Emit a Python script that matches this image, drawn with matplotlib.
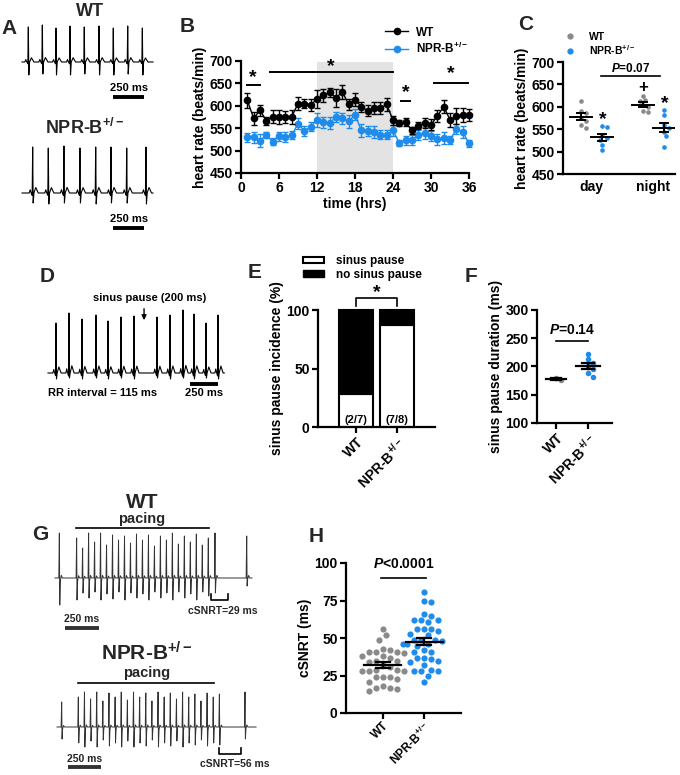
import numpy as np
import matplotlib
matplotlib.use('Agg')
import matplotlib.pyplot as plt
from matplotlib.lines import Line2D
from matplotlib.patches import Patch

plt.rcParams['font.family'] = ['Liberation Sans', 'DejaVu Sans']
plt.rcParams['font.weight'] = 'bold'
plt.rcParams['axes.labelweight'] = 'bold'
plt.rcParams['mathtext.fontset'] = 'custom'
plt.rcParams['mathtext.rm'] = 'Liberation Sans:bold'
plt.rcParams['mathtext.it'] = 'Liberation Sans:bold:italic'
plt.rcParams['mathtext.bf'] = 'Liberation Sans:bold'
plt.rcParams['mathtext.default'] = 'rm'

W, H = 680, 775
BLUE = '#1f8ceb'
GRAY = '#8a8a8a'
DARK = '#262626'
NPR = 'NPR-B$^{+/-}$'

# ---------------- data ----------------
# B: heart rate over 36 h
hours = list(range(1, 37))
wt_hr = [612, 572, 590, 567, 576, 575, 575, 575, 605, 605, 602, 615, 623, 630, 618, 631, 603, 614,
         598, 589, 595, 595, 603, 568, 562, 563, 545, 556, 562, 558, 577, 598, 569, 577, 580, 580]
wt_err = [16, 14, 12, 9, 15, 15, 14, 15, 15, 10, 14, 20, 14, 10, 20, 15, 12, 14,
          11, 12, 14, 14, 15, 10, 6, 9, 8, 8, 11, 12, 14, 15, 16, 18, 16, 13]
npr_hr = [530, 530, 522, 535, 520, 532, 530, 534, 560, 544, 553, 568, 563, 562, 575, 572, 565, 580,
          545, 544, 542, 535, 535, 545, 517, 523, 524, 535, 540, 533, 525, 528, 524, 548, 542, 516]
npr_err = [10, 12, 14, 7, 8, 10, 11, 9, 12, 11, 10, 15, 13, 14, 12, 13, 14, 12,
           14, 12, 13, 10, 10, 12, 6, 10, 11, 12, 13, 11, 12, 13, 9, 12, 14, 8]
sig_b_lines = [(1.0, 3.0, 647), (4.6, 24.0, 675), (25.3, 26.7, 611), (30.5, 35.9, 652)]
sig_b_stars = [(1.9, 664), (14.2, 688), (26.0, 630), (33.2, 672)]

# C: day / night averages
c_groups = ['day', 'night']
c_wt = [[613, 590, 587, 575, 568, 560, 553], [625, 616, 612, 603, 600, 590, 588]]
c_npr = [[557, 556, 536, 530, 527, 515, 503], [593, 581, 560, 553, 543, 534, 510]]

# E: sinus pause incidence
e_groups = ['WT', NPR]
e_pause = [2, 7]
e_total = [7, 8]

# F: sinus pause duration
f_wt = [176, 179]
f_npr = [222, 213, 207, 201, 195, 188, 181]

# H: cSNRT
h_wt = [56, 52, 49, 43, 42, 41, 41, 40, 41, 38, 38, 37, 35, 34, 35, 32, 31, 29, 28, 29, 28, 28,
        24, 24, 23, 24, 21, 18, 17, 17, 16, 15]
h_npr = [81, 75, 74, 66, 65, 62, 62, 61, 62, 56, 56, 56, 55, 53, 52, 49, 49, 49, 48, 46, 46, 46, 45,
         42, 41, 41, 37, 37, 36, 35, 34, 32, 29, 28, 28, 28, 25, 21]

# ECG traces (beat times in ms, amplitudes in px)
a_wt_beats = [51, 164, 274, 387, 502, 621, 736, 852, 970]
a_wt_up = [35, 37, 34, 36, 35, 36, 34, 36, 34]
a_wt_down = [13, 12, 13, 13, 12, 13, 13, 12, 13]
a_npr_beats = [86, 212, 338, 467, 594, 717, 844, 999]
a_npr_up = [46, 45, 47, 45, 46, 46, 45, 46]
a_npr_down = [10, 11, 10, 10, 11, 10, 10, 11]
d_beats = [71, 186, 301, 425, 531, 646, 761, 965, 1080, 1195, 1292, 1398, 1505]
d_up = [50, 60, 54, 58, 52, 56, 57, 56, 58, 63, 59, 50, 58]
d_down = [6, 5, 6, 5, 6, 5, 6, 5, 6, 5, 6, 5, 6]
g_wt_beats = [32, 159, 203, 247, 291, 335, 379, 423, 467, 511, 555, 599, 643, 687, 731, 775,
              819, 863, 907, 951, 995, 1039, 1083, 1127, 1176, 1409]
g_wt_up = [45, 40, 30, 45, 36, 45, 33, 43, 38, 42, 35, 44, 38, 43, 32, 42, 38, 45, 34, 42, 36,
           44, 33, 40, 45, 42]
g_wt_down = [27, 22, 15, 20, 14, 22, 16, 21, 14, 22, 15, 20, 16, 22, 14, 20, 15, 22, 14, 20,
             16, 22, 14, 18, 15, 8]
g_npr_beats = [35, 160, 206, 252, 298, 344, 390, 436, 482, 528, 574, 620, 666, 712, 758, 804,
               850, 896, 942, 988, 1034, 1080, 1126, 1172, 1218, 1410]
g_npr_up = [25, 30, 35, 28, 35, 26, 34, 30, 35, 27, 35, 30, 34, 26, 35, 30, 34, 28, 35, 30, 33,
            26, 34, 30, 33, 35]
g_npr_down = [12, 16, 20, 14, 20, 13, 19, 16, 20, 14, 20, 16, 19, 13, 20, 16, 19, 14, 20, 16,
              18, 13, 19, 16, 18, 12]

fig = plt.figure(figsize=(6.8, 7.75), dpi=100)


def px_axes(x0, y0, x1, y1):
    return fig.add_axes([x0 / W, 1 - y1 / H, (x1 - x0) / W, (y1 - y0) / H])


def style(ax):
    for s in ['top', 'right']:
        ax.spines[s].set_visible(False)
    for s in ['left', 'bottom']:
        ax.spines[s].set_linewidth(1.6)
    ax.tick_params(width=1.6, length=4, labelsize=10, pad=2)


def trace_axes(x0, y0, x1, y1, base, ms_px, t0):
    ax = px_axes(x0, y0, x1, y1)
    ax.set_xlim((x0 - t0) * ms_px, (x1 - t0) * ms_px)
    ax.set_ylim(base - y1, base - y0)
    ax.axis('off')
    return ax


def sinus_trace(beats, up, down, t_end):
    xs, ys = [0], [0]
    for t, a, d in zip(beats, up, down):
        xs += [t - 28, t - 20, t - 12, t - 4, t, t + 4, t + 10, t + 25, t + 45]
        ys += [0, 0.07 * a, 0, -0.05 * a, a, -d, 0, 0.12 * a, 0]
    xs.append(t_end)
    ys.append(0)
    return xs, ys


def paced_trace(beats, up, down, t_end):
    xs, ys = [0], [0]
    for t, a, d in zip(beats, up, down):
        xs += [t - 4, t, t + 3, t + 7, t + 14, t + 22]
        ys += [0, a, -d, -0.15 * d, 0.06 * a, 0]
    xs.append(t_end)
    ys.append(0)
    return xs, ys


def swarm(vals, center, px_x, px_y, d, step=0.5, gap=0.9):
    vals = np.asarray(vals, float)
    placed = []
    xs = np.zeros(len(vals))
    for i in np.argsort(vals)[::-1]:
        y = vals[i] * px_y
        for k in [0, 1, -1, 2, -2, 3, -3, 4, -4, 5, -5, 6, -6]:
            x = k * d * step
            if all((x - px) ** 2 + (y - py) ** 2 >= (d * gap) ** 2 for px, py in placed):
                break
        placed.append((x, y))
        xs[i] = center + x / px_x
    return xs


def mean_sem(ax, x, vals, half_mean, half_cap, lw=1.6):
    m = np.mean(vals)
    s = np.std(vals, ddof=1) / np.sqrt(len(vals))
    ax.plot([x - half_mean, x + half_mean], [m, m], color='k', lw=lw, zorder=5)
    ax.plot([x, x], [m - s, m + s], color='k', lw=lw, zorder=5)
    for v in (m - s, m + s):
        ax.plot([x - half_cap, x + half_cap], [v, v], color='k', lw=lw, zorder=5)


def label(x, y, s):
    fig.text(x / W, 1 - y / H, s, fontsize=15, ha='center', va='center', color=DARK)


for x, y, s in [(9, 28, 'A'), (187, 27, 'B'), (526, 24, 'C'), (47, 277, 'D'),
                (255, 272, 'E'), (471, 276, 'F'), (40, 535, 'G'), (316, 537, 'H')]:
    label(x, y, s)

# ---------------- A ----------------
ms_a = 8.06
ax = trace_axes(0, 0, 170, 110, 62, ms_a, 22)
ax.plot(*sinus_trace(a_wt_beats, a_wt_up, a_wt_down, 1056), color='k', lw=0.8)
ax.text(548, 50, 'WT', fontsize=13, ha='center', va='center', color=DARK)
ax.plot([734, 984], [-35, -35], color='k', lw=2.8, solid_capstyle='butt')
ax.text(859, -26, '250 ms', fontsize=8, ha='center', va='center')

ax = trace_axes(0, 112, 170, 240, 193, ms_a, 22)
ax.plot(*sinus_trace(a_npr_beats, a_npr_up, a_npr_down, 1056), color='k', lw=0.8)
ax.text(508, 65, NPR, fontsize=13, ha='center', va='center', color=DARK)
ax.plot([734, 984], [-35, -35], color='k', lw=2.8, solid_capstyle='butt')
ax.text(859, -26, '250 ms', fontsize=8, ha='center', va='center')

# ---------------- B ----------------
axB = px_axes(241, 61, 469, 173)
style(axB)
axB.axvspan(12, 24, ymax=0.99, color='#e3e3e3', lw=0, zorder=0)
axB.errorbar(hours, wt_hr, yerr=wt_err, color='k', marker='o', ms=4.5, lw=1,
             capsize=2.5, elinewidth=1, clip_on=False, zorder=4)
axB.errorbar(hours, npr_hr, yerr=npr_err, color=BLUE, marker='o', ms=4.5, lw=1,
             capsize=2.5, elinewidth=1, clip_on=False, zorder=3)
for x0, x1, y in sig_b_lines:
    axB.plot([x0, x1], [y, y], color='k', lw=1.4, clip_on=False)
for x, y in sig_b_stars:
    axB.text(x, y, '*', fontsize=14, ha='center', va='center', clip_on=False)
axB.set_xlim(0, 36)
axB.set_ylim(450, 700)
axB.set_xticks(range(0, 37, 6))
axB.set_yticks(range(450, 701, 50))
axB.set_xlabel('time (hrs)', fontsize=10, labelpad=1)
axB.set_ylabel('heart rate (beats/min)', fontsize=10, labelpad=2)
axB.legend([Line2D([], [], color='k', marker='o', ms=4.5, lw=1),
            Line2D([], [], color=BLUE, marker='o', ms=4.5, lw=1)],
           ['WT', NPR], loc='lower left', bbox_to_anchor=(0.6, 0.98), frameon=False,
           fontsize=8.5, handlelength=2.0, handletextpad=0.6, labelspacing=0.2,
           borderpad=0.1)

# ---------------- C ----------------
axC = px_axes(563, 62, 675, 174)
style(axC)
c_centers = [1.0, 3.2]
pxx, pxy = 28.0, 112 / 250
for i, c in enumerate(c_centers):
    xw = c - 0.35
    xn = c + 0.4
    axC.scatter(swarm(c_wt[i], xw, pxx, pxy, 4.6, 0.55, 0.98), c_wt[i], s=11, color=GRAY,
                lw=0, zorder=3)
    axC.scatter(swarm(c_npr[i], xn, pxx, pxy, 4.6, 0.55, 0.98), c_npr[i], s=11, color=BLUE,
                lw=0, zorder=3)
    mean_sem(axC, xw, c_wt[i], 0.4, 0.15, lw=1.4)
    mean_sem(axC, xn, c_npr[i], 0.4, 0.15, lw=1.4)
axC.text(1.43, 572, '*', fontsize=14, ha='center', va='center')
axC.text(3.62, 607, '*', fontsize=14, ha='center', va='center')
axC.text(2.85, 643, '+', fontsize=12, ha='center', va='center')
axC.plot([1.35, 3.46], [669, 669], color='k', lw=1.2)
axC.text(2.4, 686, '$\\mathit{P}$=0.07', fontsize=8.5, ha='center', va='center')
axC.set_xlim(0, 4)
axC.set_ylim(450, 700)
axC.set_yticks(range(450, 701, 50))
axC.set_xticks(c_centers)
axC.set_xticklabels(c_groups, fontsize=10)
axC.tick_params(axis='x', length=0, pad=4)
axC.set_ylabel('heart rate (beats/min)', fontsize=10, labelpad=2)
axC.legend([Line2D([], [], color=GRAY, marker='o', ms=3.5, lw=0),
            Line2D([], [], color=BLUE, marker='o', ms=3.5, lw=0)],
           ['WT', NPR], loc='lower left', bbox_to_anchor=(-0.05, 0.99), frameon=False,
           fontsize=7.5, handlelength=1.2, handletextpad=1.2, labelspacing=0.1,
           borderpad=0.1)

# ---------------- D ----------------
ms_d = 8.85
ax = trace_axes(40, 285, 230, 400, 373, ms_d, 48)
ax.plot(*sinus_trace(d_beats, d_up, d_down, 1560), color='k', lw=0.8)
ax.text(903, 75, 'sinus pause (200 ms)', fontsize=8, ha='center', va='center')
ax.annotate('', xy=(850, 50), xytext=(850, 67),
            arrowprops=dict(arrowstyle='-|>', color='k', lw=1, mutation_scale=7))
ax.text(0, -20, 'RR interval = 115 ms', fontsize=8, ha='left', va='center')
ax.plot([1257, 1507], [-11, -11], color='k', lw=2.8, solid_capstyle='butt')
ax.text(1382, -20, '250 ms', fontsize=8, ha='center', va='center')

# ---------------- E ----------------
axE = px_axes(318, 310, 435, 427)
style(axE)
xe = [0, 1]
frac = [100.0 * p / t for p, t in zip(e_pause, e_total)]
axE.bar(xe, frac, width=0.85, color='white', edgecolor='k', lw=1.5, clip_on=False)
axE.bar(xe, [100 - f for f in frac], bottom=frac, width=0.85, color='k', edgecolor='k',
        lw=1.5, clip_on=False)
for x, p, t in zip(xe, e_pause, e_total):
    axE.text(x, 6, '(%d/%d)' % (p, t), fontsize=8, ha='center', va='center')
axE.plot([0, 0, 1, 1], [103, 110, 110, 103], color='k', lw=1.2, clip_on=False)
axE.text(0.5, 115, '*', fontsize=14, ha='center', va='center')
axE.set_xlim(-0.93, 1.93)
axE.set_ylim(0, 100)
axE.set_yticks([0, 50, 100])
axE.set_xticks(xe)
axE.set_xticklabels(e_groups, rotation=45, ha='right', rotation_mode='anchor', fontsize=10)
axE.set_ylabel('sinus pause incidence (%)', fontsize=10, labelpad=2)
fig.legend([Patch(facecolor='white', edgecolor='k', lw=1.5), Patch(facecolor='k', edgecolor='k')],
           ['sinus pause', 'no sinus pause'], loc='upper left',
           bbox_to_anchor=(296 / W, 1 - 248 / H), frameon=False, fontsize=8.5,
           handlelength=1.8, handleheight=0.5, handletextpad=1.0, labelspacing=0.15,
           borderpad=0.1)

# ---------------- F ----------------
axF = px_axes(537, 310, 612, 423)
style(axF)
pxx_f, pxy_f = 32.0, 113 / 200
axF.scatter(swarm(f_wt, 0, pxx_f, pxy_f, 5.5), f_wt, s=16, color=GRAY, lw=0, zorder=3)
axF.scatter(swarm(f_npr, 1, pxx_f, pxy_f, 5.5), f_npr, s=16, color=BLUE, lw=0, zorder=3)
mean_sem(axF, 0, f_wt, 0.32, 0.15)
mean_sem(axF, 1, f_npr, 0.38, 0.18)
axF.plot([0, 1], [245, 245], color='k', lw=1.2)
axF.text(0.5, 264, '$\\mathit{P}$=0.14', fontsize=10, ha='center', va='center')
axF.set_xlim(-0.59, 1.75)
axF.set_ylim(100, 300)
axF.set_yticks(range(100, 301, 50))
axF.set_xticks([0, 1])
axF.set_xticklabels(e_groups, rotation=45, ha='right', rotation_mode='anchor', fontsize=10)
axF.set_ylabel('sinus pause duration (ms)', fontsize=10, labelpad=2)

# ---------------- G ----------------
ms_g1 = 7.35
ax = trace_axes(30, 490, 270, 640, 578, ms_g1, 55)
ax.plot(*paced_trace(g_wt_beats, g_wt_up, g_wt_down, 1448), color='#333333', lw=0.7)
ax.text(639, 76, 'WT', fontsize=15, ha='center', va='center', color=DARK)
ax.text(639, 59, 'pacing', fontsize=10.5, ha='center', va='center', color=DARK)
ax.plot([154, 1132], [50, 50], color='k', lw=1.2)
ax.plot([1147, 1147, 1272, 1272], [-16, -22, -22, -16], color='k', lw=1.2)
ax.text(1235, -33, 'cSNRT=29 ms', fontsize=7.5, ha='center', va='center', color=DARK)
ax.plot([73.5, 323.5], [-50, -50], color='#333333', lw=2.8, solid_capstyle='butt')
ax.text(198, -41, '250 ms', fontsize=7.5, ha='center', va='center', color=DARK)

ms_g2 = 7.5
ax = trace_axes(30, 640, 275, 775, 727, ms_g2, 57)
ax.plot(*paced_trace(g_npr_beats, g_npr_up, g_npr_down, 1493), color='#333333', lw=0.7)
ax.text(675, 74, NPR, fontsize=15, ha='center', va='center', color=DARK)
ax.text(675, 54, 'pacing', fontsize=10.5, ha='center', va='center', color=DARK)
ax.plot([157.5, 1177.5], [44, 44], color='k', lw=1.2)
ax.plot([1215, 1215, 1380, 1380], [-21, -27, -27, -21], color='k', lw=1.2)
ax.text(1335, -37, 'cSNRT=56 ms', fontsize=7.5, ha='center', va='center', color=DARK)
ax.plot([82.5, 332.5], [-40, -40], color='#333333', lw=2.8, solid_capstyle='butt')
ax.text(210, -32, '250 ms', fontsize=7.5, ha='center', va='center', color=DARK)

# ---------------- H ----------------
axH = px_axes(346, 563, 461, 713)
style(axH)
pxx_h, pxy_h = 41.0, 150 / 100
axH.scatter(swarm(h_wt, 0, pxx_h, pxy_h, 7.0), h_wt, s=20, color=GRAY, lw=0, zorder=3)
axH.scatter(swarm(h_npr, 1, pxx_h, pxy_h, 7.0), h_npr, s=20, color=BLUE, lw=0, zorder=3)
mean_sem(axH, 0, h_wt, 0.45, 0.16)
mean_sem(axH, 1, h_npr, 0.45, 0.16)
axH.plot([-0.05, 1.05], [90, 90], color='k', lw=1.2)
axH.text(0.5, 99, '$\\mathit{P}$<0.0001', fontsize=10, ha='center', va='center')
axH.set_xlim(-0.9, 1.9)
axH.set_ylim(0, 100)
axH.set_yticks(range(0, 101, 25))
axH.set_xticks([0, 1])
axH.set_xticklabels(e_groups, rotation=45, ha='right', rotation_mode='anchor', fontsize=8.5)
axH.tick_params(axis='x', pad=1)
axH.set_ylabel('cSNRT (ms)', fontsize=10, labelpad=2)

fig.savefig('out.png', dpi=100)
